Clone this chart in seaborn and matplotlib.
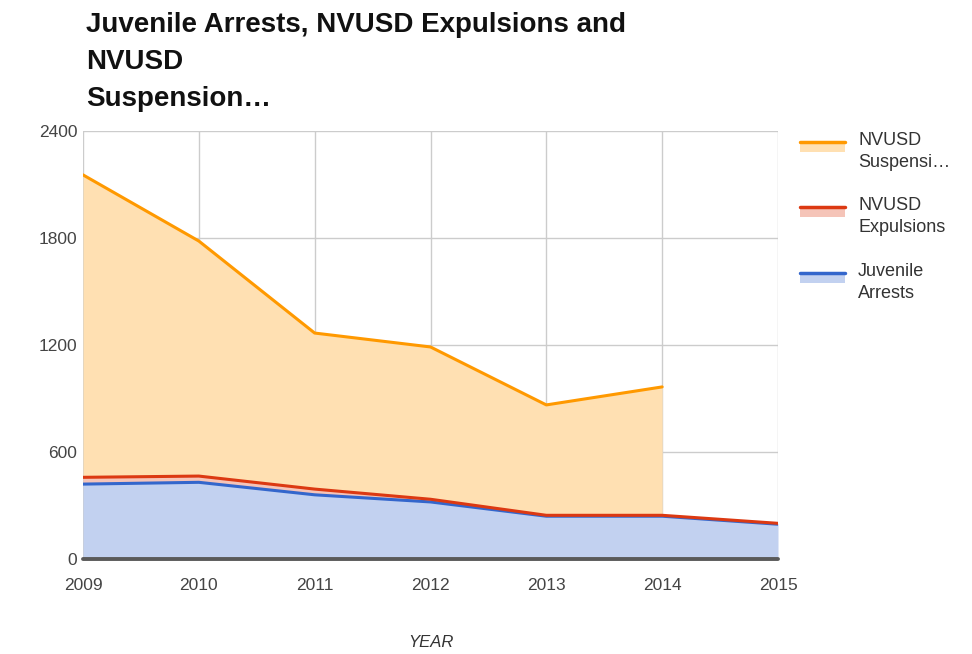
import numpy as np
import pandas as pd
import matplotlib
matplotlib.use('Agg')
import matplotlib.pyplot as plt
import seaborn as sns
from matplotlib.patches import Rectangle
from matplotlib.lines import Line2D

# Values
years = [2009, 2010, 2011, 2012, 2013, 2014, 2015]
juvenile_arrests = [420, 430, 360, 320, 240, 240, 195]
nvusd_expulsions = [38, 35, 32, 15, 5, 5, 5]
nvusd_suspensions = [1696, 1318, 875, 854, 619, 720, np.nan]

sns.set_theme(style='white')
plt.rcParams['font.family'] = ['Liberation Sans', 'DejaVu Sans']

df = pd.DataFrame({'year': years,
                   'arrests': juvenile_arrests,
                   'expulsions': nvusd_expulsions,
                   'suspensions': nvusd_suspensions})
df['lvl1'] = df['arrests']
df['lvl2'] = df['lvl1'] + df['expulsions']
df['lvl3'] = df['lvl2'] + df['suspensions']

blue, red, orange = '#3366cc', '#dc3912', '#ff9900'
blue_f, red_f, orange_f = '#c2d1f0', '#f5c4b8', '#ffe0b2'

fig = plt.figure(figsize=(9.72, 6.54), dpi=100)
ax = fig.add_axes([83 / 972, 1 - 559 / 654, (778 - 83) / 972, (559 - 131) / 654])

# stacked areas
ax.fill_between(df['year'], 0, df['lvl1'], color=blue_f, lw=0)
ax.fill_between(df['year'], df['lvl1'], df['lvl2'], color=red_f, lw=0)
m = df['suspensions'].notna()
ax.fill_between(df['year'][m], df['lvl2'][m], df['lvl3'][m], color=orange_f, lw=0)

sns.lineplot(data=df, x='year', y='lvl1', color=blue, lw=2.2, ax=ax)
sns.lineplot(data=df, x='year', y='lvl2', color=red, lw=2.2, ax=ax)
sns.lineplot(data=df[m], x='year', y='lvl3', color=orange, lw=2.2, ax=ax)

ax.set_xlim(2009, 2015)
ax.set_ylim(0, 2400)
ax.set_xticks(years)
ax.set_yticks([0, 600, 1200, 1800, 2400])
ax.grid(True, color='#cccccc', lw=1)
ax.set_axisbelow(True)
for s in ax.spines.values():
    s.set_visible(False)
ax.axhline(0, color='#5a5a5a', lw=2.8, clip_on=False, zorder=5)
ax.tick_params(axis='both', length=0, labelsize=12.5, labelcolor='#444444')
ax.tick_params(axis='x', pad=14)
ax.tick_params(axis='y', pad=4)
ax.set_xlabel('YEAR', fontsize=12, style='italic', color='#333333', labelpad=30)
ax.set_ylabel('')

fig.text(86 / 972, 1 - 12 / 654,
         'Juvenile Arrests, NVUSD Expulsions and\nNVUSD\nSuspension…',
         fontsize=20, fontweight='bold', color='#111111', va='top',
         linespacing=1.55)

# legend drawn by hand, Google Charts style
legend_items = [('NVUSD\nSuspensi…', orange, orange_f, 142),
                ('NVUSD\nExpulsions', red, red_f, 207),
                ('Juvenile\nArrests', blue, blue_f, 273)]
for label, lc, fc, py in legend_items:
    fig.add_artist(Rectangle((800 / 972, 1 - (py + 10) / 654), 45 / 972, 10 / 654,
                             transform=fig.transFigure, color=fc, lw=0))
    fig.add_artist(Line2D([800 / 972, 845 / 972], [1 - py / 654, 1 - py / 654],
                          transform=fig.transFigure, color=lc, lw=2.5))
    fig.text(858 / 972, 1 - (py - 10) / 654, label, fontsize=13, color='#333333',
             va='top', linespacing=1.4)

fig.savefig('out.png', dpi=100)
